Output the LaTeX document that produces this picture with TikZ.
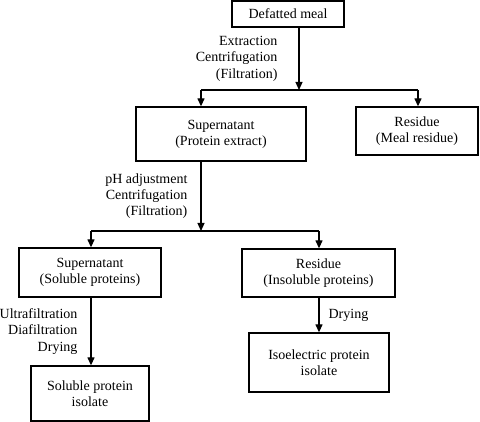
\documentclass[tikz,border=0pt]{standalone}
\usepackage{fontspec}
\setmainfont{Liberation Serif}
\usetikzlibrary{arrows.meta}

\begin{document}
\begin{tikzpicture}[x=1pt,y=-1pt,font=\fontsize{14}{16.2}\selectfont]
    \useasboundingbox (0,0) rectangle (480,422);

    \begin{scope}[every node/.style={rectangle,draw,line width=1.3pt,align=center,inner sep=0pt}]
      \node[minimum width=112pt,minimum height=26pt] (meal) at (288,14) {Defatted meal};
      \node[minimum width=170pt,minimum height=54pt] (sup1) at (221,134) {Supernatant\\(Protein extract)};
      \node[minimum width=122pt,minimum height=48pt] (res1) at (417,131) {Residue\\(Meal residue)};
      \node[minimum width=142pt,minimum height=49pt] (sup2) at (90,272.5) {Supernatant\\(Soluble proteins)};
      \node[minimum width=153pt,minimum height=48pt] (res2) at (318.5,273) {Residue\\(Insoluble proteins)};
      \node[minimum width=118pt,minimum height=55pt] (sol) at (90,393.5) {Soluble protein\\isolate};
      \node[minimum width=140pt,minimum height=59pt] (iso) at (319,362.5) {Isoelectric protein\\isolate};
    \end{scope}

    \coordinate (s1) at (299,90);
    \coordinate (l1) at (201,90);
    \coordinate (r1) at (418,90);
    \coordinate (s2) at (201,231);
    \coordinate (l2) at (91,231);
    \coordinate (r2) at (319,231);

    \begin{scope}[>={Triangle[length=8pt,width=7pt]},line width=1.2pt,
                every node/.style={align=right,inner sep=0pt}]
      \draw[->] (meal.south -| s1) -- node[anchor=east,xshift=-21pt] {Extraction\\Centrifugation\\(Filtration)} (s1);
      \draw (l1) -- (r1);
      \draw[->] (l1) -- (l1 |- sup1.north);
      \draw[->] (r1) -- (r1 |- res1.north);
      \draw[->] (sup1.south -| s2) -- node[anchor=east,xshift=-13pt] {pH adjustment\\Centrifugation\\(Filtration)} (s2);
      \draw (l2) -- (r2);
      \draw[->] (l2) -- (l2 |- sup2.north);
      \draw[->] (r2) -- (r2 |- res2.north);
      \draw[->] (sup2.south -| l2) -- node[anchor=east,xshift=-13pt] {Ultrafiltration\\Diafiltration\\Drying} (l2 |- sol.north);
      \draw[->] (res2.south -| r2) -- node[anchor=west,xshift=9pt] {Drying} (r2 |- iso.north);
    \end{scope}
\end{tikzpicture}
\end{document}
